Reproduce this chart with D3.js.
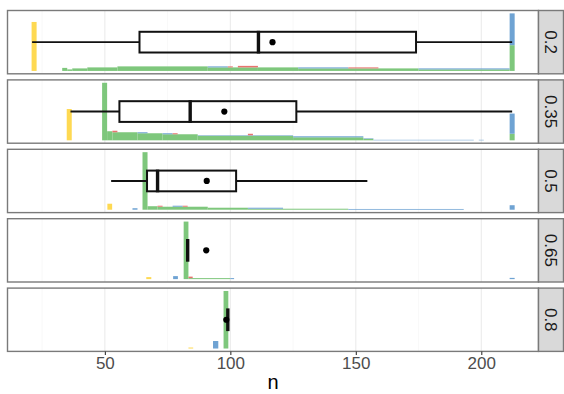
<!DOCTYPE html>
<html>
<head>
<meta charset="utf-8">
<script src="https://cdn.jsdelivr.net/npm/d3@7"></script>
<style>
  html, body { margin: 0; padding: 0; background: #fff; }
  svg { display: block; font-family: "Liberation Sans", Arial, sans-serif; }
</style>
</head>
<body>
<svg id="chart" width="564" height="394"></svg>
<script>
// Facet labels (proportion), one panel per value
const facets = ["0.2", "0.35", "0.5", "0.65", "0.8"];

// Histogram counts per facet, as runs of bins: [n from, n to, count]
const greenRuns = [
  [[33,35,6],[35,37,3],[37,43,5],[43,55,7],[55,91,9],[91,111,7],[111,127,7],[127,175,5],[175,211.3,3],[211.3,213.3,51]],
  [[48.9,50.9,114],[50.9,53,18],[53,63,16],[63,73,14],[73,87,12],[87,125,9],[125,153,6],[153,157,3],[211.3,213.3,13]],
  [[65,67,115],[67,71,7],[71,91,6],[91,107,4],[107,147,2]],
  [[81.4,83.3,115],[83.3,100,2]],
  [[97.3,99.2,115]]
];
const blueRuns = [
  [[91,99,2],[127,147,2],[175,211.3,2],[211.3,213.3,63]],
  [[63,67,2],[73,77,2],[87,125,1],[125,153,2],[153,157,1],[157,197,1],[199,201,1],[211.3,213.3,40]],
  [[61,63,3],[77,81,2],[107,121,2],[147,193,1.5],[211.3,213.3,9]],
  [[77.2,79.1,6],[100,101.5,2],[211.3,213.3,2.5]],
  [[93.1,95.2,15]]
];
const redRuns = [
  [[99,101,2],[103,111,3],[147,159,2]],
  [[53,55,3],[77,79,2],[107,109,3]],
  [[71,73,2],[81,83,2]],
  [[83.3,85,3]],
  []
];
const yellowRuns = [
  [[20.8,22.8,97]],
  [[34.8,36.8,62]],
  [[51,52.9,12]],
  [[66.5,68.5,4]],
  [[83.3,85.2,2]]
];

// Boxplot summaries of n per facet
const boxLow  = [21, 36.3, 52.5, 83, 99];
const boxQ1   = [63.8, 55.8, 66.8, 83, 99];
const boxMed  = [111.2, 84, 71, 83, 99];
const boxQ3   = [174, 126.3, 102.3, 83, 99];
const boxHigh = [212.3, 212.3, 154.6, 83, 99];
const boxMean = [116.8, 97.6, 90.6, 90.4, 98.4];

const xTicks = [50, 100, 150, 200];
const xMinor = [25, 75, 125, 175];

// Stacking order, bottom to top
const series = [
  { runs: greenRuns,  color: "#7ec77c" },
  { runs: blueRuns,   color: "#6fa3d3" },
  { runs: redRuns,    color: "#e8736f" },
  { runs: yellowRuns, color: "#fed952" }
];

const svg = d3.select("#chart");
const left = 7.5, right = 538.5, stripW = 25;
const top0 = 10.5, panelH = 63.3, gap = 6.1;

const x = d3.scaleLinear().domain([11.2, 222.8]).range([left, right]);

function countAt(runs, v) {
  const r = runs.find(d => v >= d[0] && v < d[1]);
  return r ? r[2] : 0;
}

facets.forEach((label, i) => {
  const y0 = top0 + i * (panelH + gap);
  const y1 = y0 + panelH;

  // stacked bars
  const bars = [];
  series.forEach((s, si) => {
    s.runs[i].forEach(r => {
      const mid = (r[0] + r[1]) / 2;
      let base = 0;
      for (let k = 0; k < si; k++) base += countAt(series[k].runs[i], mid);
      bars.push({ x0: r[0], x1: r[1], b: base, t: base + r[2], color: s.color });
    });
  });
  const ymax = d3.max(bars, d => d.t);
  const y = d3.scaleLinear().domain([-0.05 * ymax, 1.05 * ymax]).range([y1, y0]);

  const g = svg.append("g");

  // panel background and grid
  g.append("rect").attr("x", left).attr("y", y0).attr("width", right - left).attr("height", panelH)
    .attr("fill", "#fff");
  g.selectAll(".minor").data(xMinor).join("line")
    .attr("x1", d => x(d)).attr("x2", d => x(d)).attr("y1", y0).attr("y2", y1)
    .attr("stroke", "#f3f3f3").attr("stroke-width", 0.6);
  g.selectAll(".major").data(xTicks).join("line")
    .attr("x1", d => x(d)).attr("x2", d => x(d)).attr("y1", y0).attr("y2", y1)
    .attr("stroke", "#ebebeb").attr("stroke-width", 1.1);

  // histogram
  g.selectAll(".bar").data(bars).join("rect")
    .attr("x", d => x(d.x0)).attr("width", d => x(d.x1) - x(d.x0))
    .attr("y", d => y(d.t)).attr("height", d => y(d.b) - y(d.t))
    .attr("fill", d => d.color);

  // boxplot
  const yc = y(ymax * 0.5), yt = y(ymax * 0.68), yb = y(ymax * 0.32);
  const stroke = "#111";
  g.append("line").attr("x1", x(boxLow[i])).attr("x2", x(boxQ1[i])).attr("y1", yc).attr("y2", yc)
    .attr("stroke", stroke).attr("stroke-width", 1.9);
  g.append("line").attr("x1", x(boxQ3[i])).attr("x2", x(boxHigh[i])).attr("y1", yc).attr("y2", yc)
    .attr("stroke", stroke).attr("stroke-width", 1.9);
  g.append("rect").attr("x", x(boxQ1[i])).attr("y", yt)
    .attr("width", x(boxQ3[i]) - x(boxQ1[i])).attr("height", yb - yt)
    .attr("fill", "none").attr("stroke", stroke).attr("stroke-width", 2);
  g.append("line").attr("x1", x(boxMed[i])).attr("x2", x(boxMed[i])).attr("y1", yt - 1).attr("y2", yb + 1)
    .attr("stroke", stroke).attr("stroke-width", 3.4);
  g.append("circle").attr("cx", x(boxMean[i])).attr("cy", yc).attr("r", 3.1).attr("fill", "#000");

  // panel border
  g.append("rect").attr("x", left).attr("y", y0).attr("width", right - left).attr("height", panelH)
    .attr("fill", "none").attr("stroke", "#7a7a7a").attr("stroke-width", 1.4);

  // strip
  g.append("rect").attr("x", right).attr("y", y0).attr("width", stripW).attr("height", panelH)
    .attr("fill", "#d9d9d9").attr("stroke", "#7a7a7a").attr("stroke-width", 1.4);
  g.append("text")
    .attr("transform", `translate(${right + stripW / 2},${(y0 + y1) / 2}) rotate(90)`)
    .attr("text-anchor", "middle").attr("dy", "0.35em")
    .attr("font-size", 17).attr("fill", "#1a1a1a").text(label);
});

// x axis below the last panel
const axisY = top0 + 4 * (panelH + gap) + panelH;
const axis = svg.append("g").attr("transform", `translate(0,${axisY})`)
  .call(d3.axisBottom(x).tickValues(xTicks).tickSize(3.5).tickPadding(2.5).tickFormat(d3.format("d")));
axis.select(".domain").remove();
axis.selectAll(".tick line").attr("stroke", "#333").attr("stroke-width", 1.1);
axis.selectAll(".tick text").attr("font-size", 17).attr("fill", "#4d4d4d")
  .attr("font-family", "Liberation Sans, Arial, sans-serif");

svg.append("text").attr("x", (left + right) / 2).attr("y", 388.5)
  .attr("text-anchor", "middle").attr("font-size", 20).attr("fill", "#000").text("n");
</script>
</body>
</html>
